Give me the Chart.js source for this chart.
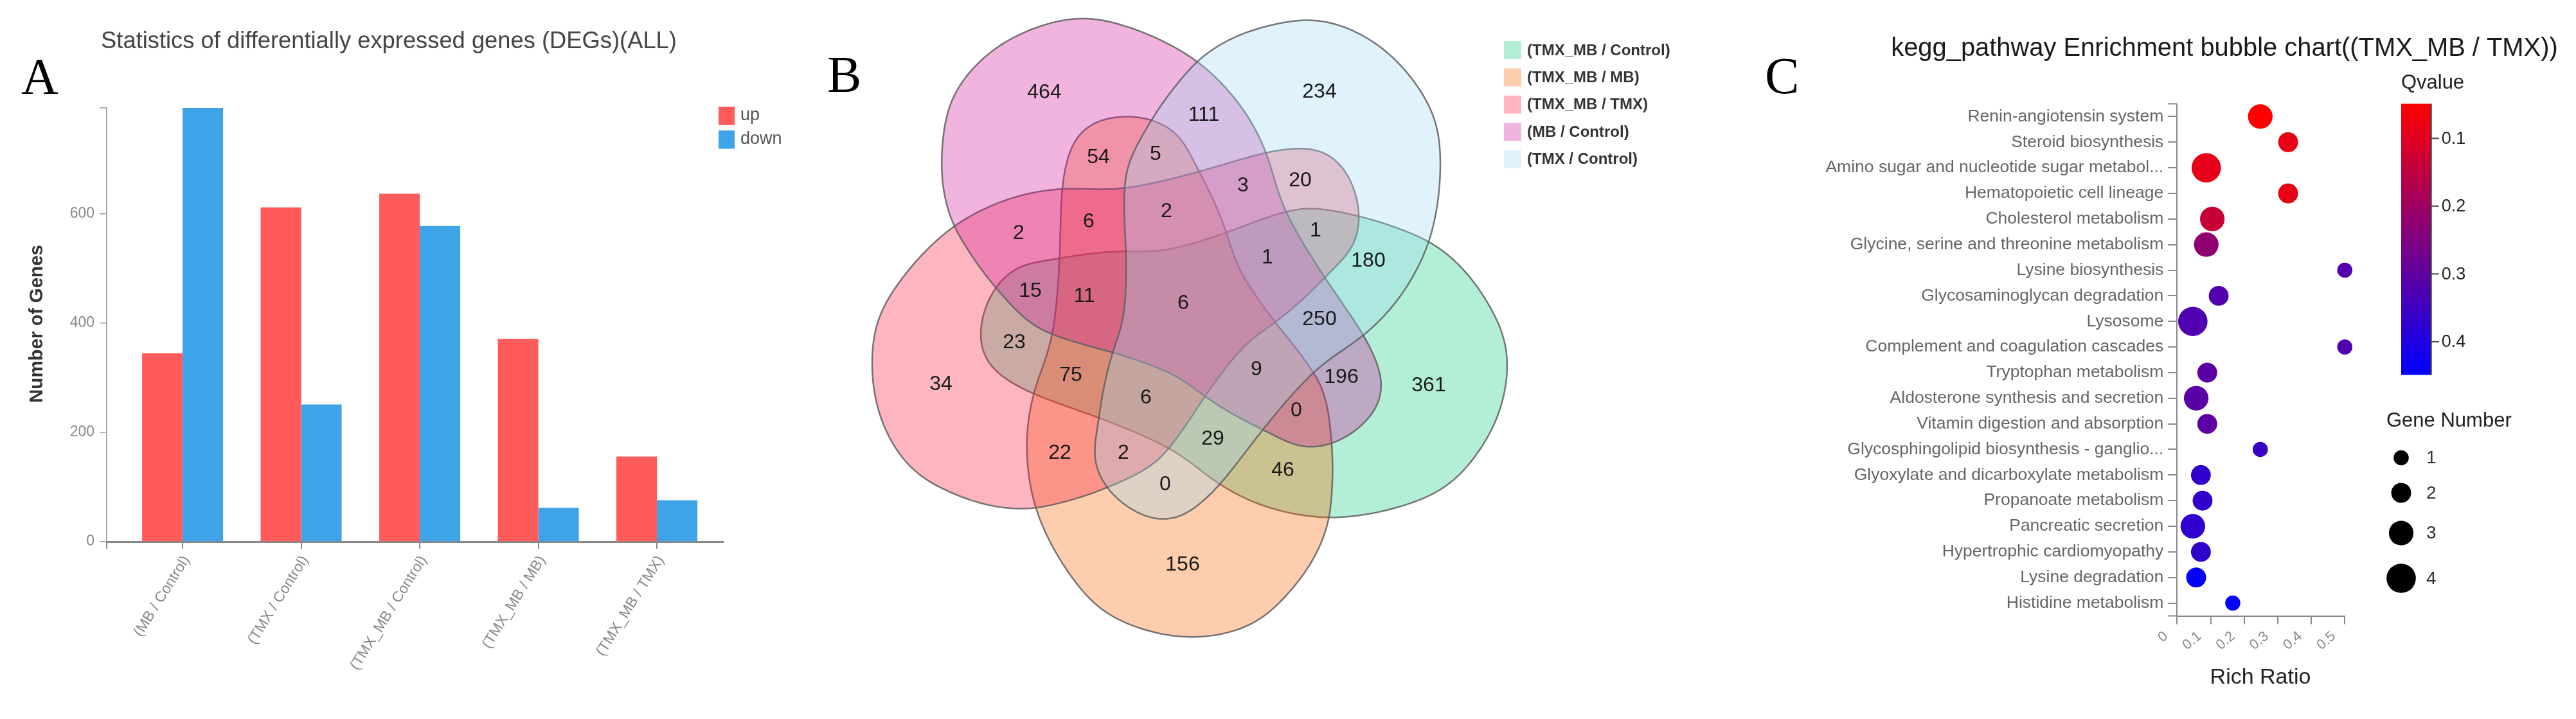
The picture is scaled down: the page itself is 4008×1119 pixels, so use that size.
<!DOCTYPE html>
<html><head><meta charset="utf-8">
<script src="https://cdn.jsdelivr.net/npm/chart.js@4/dist/chart.umd.min.js"></script>
<style>
html,body{margin:0;padding:0;background:#fff;}
body{width:4008px;height:1119px;position:relative;overflow:hidden;}
canvas{position:absolute;top:0;}
</style></head><body>
<canvas id="cA" width="1300" height="1119" style="left:0px"></canvas>
<canvas id="cB" width="1380" height="1119" style="left:1270px"></canvas>
<canvas id="cC" width="1358" height="1119" style="left:2650px"></canvas>
<script>
// ================= DATA =================
// Panel A
const degCategories = ['(MB / Control)', '(TMX / Control)', '(TMX_MB / Control)', '(TMX_MB / MB)', '(TMX_MB / TMX)'];
const degUp   = [345, 612, 637, 371, 156];
const degDown = [794, 251, 578, 62, 76];
const degTicks = [0, 200, 400, 600];

// Panel B
const vennSets = ['(TMX_MB / Control)', '(TMX_MB / MB)', '(TMX_MB / TMX)', '(MB / Control)', '(TMX / Control)'];
const vennCounts = [464, 234, 111, 54, 5, 3, 20, 2, 6, 2, 1, 1, 180, 15, 11, 6, 250, 23, 75, 9, 196, 361, 34, 6, 0, 22, 2, 29, 46, 0, 156];

// Panel C
const keggPathways = [
  'Renin-angiotensin system', 'Steroid biosynthesis', 'Amino sugar and nucleotide sugar metabol...',
  'Hematopoietic cell lineage', 'Cholesterol metabolism', 'Glycine, serine and threonine metabolism',
  'Lysine biosynthesis', 'Glycosaminoglycan degradation', 'Lysosome', 'Complement and coagulation cascades',
  'Tryptophan metabolism', 'Aldosterone synthesis and secretion', 'Vitamin digestion and absorption',
  'Glycosphingolipid biosynthesis - ganglio...', 'Glyoxylate and dicarboxylate metabolism',
  'Propanoate metabolism', 'Pancreatic secretion', 'Hypertrophic cardiomyopathy', 'Lysine degradation',
  'Histidine metabolism'];
const keggRichRatio = [0.248, 0.331, 0.087, 0.331, 0.105, 0.087, 0.5, 0.124, 0.047, 0.5,
                       0.090, 0.057, 0.090, 0.248, 0.071, 0.076, 0.047, 0.071, 0.057, 0.166];
const keggQvalue = [0.049, 0.085, 0.088, 0.085, 0.135, 0.225, 0.32, 0.32, 0.325, 0.32,
                    0.305, 0.31, 0.305, 0.36, 0.37, 0.37, 0.375, 0.37, 0.445, 0.449];
const keggGeneNumber = [3, 2, 4, 2, 3, 3, 1, 2, 4, 1, 2, 3, 2, 1, 2, 2, 3, 2, 2, 1];
const richTicks = [0, 0.1, 0.2, 0.3, 0.4, 0.5];
const qTicks = [0.1, 0.2, 0.3, 0.4];
const geneLegend = [1, 2, 3, 4];

// ================= LAYOUT / STYLE =================
const FONT = "'Liberation Sans', Arial, sans-serif";
const SERIF = "'Liberation Serif', 'Times New Roman', serif";
Chart.defaults.font.family = FONT;
Chart.defaults.animation = false;

function fitSize(ctx, text, width, weight, family) {
  ctx.font = weight + ' 100px ' + family;
  return 100 * width / ctx.measureText(text).width;
}
function drawFitText(ctx, text, cx, baseline, width, weight, family, color, base) {
  const s = fitSize(ctx, text, width, weight, family);
  ctx.font = weight + ' ' + s + 'px ' + family;
  ctx.fillStyle = color; ctx.textAlign = 'center'; ctx.textBaseline = base || 'alphabetic';
  ctx.fillText(text, cx, baseline);
}
function letter(ctx, ch, x, baseline) {
  ctx.font = '80px ' + SERIF; ctx.fillStyle = '#000';
  ctx.textAlign = 'left'; ctx.textBaseline = 'alphabetic';
  ctx.fillText(ch, x, baseline);
}

// ================= PANEL A =================
const degMax = Math.max(...degUp, ...degDown);
const panelAText = {
  id: 'panelAText',
  afterDraw(chart) {
    const ctx = chart.ctx, ca = chart.chartArea;
    ctx.save();
    drawFitText(ctx, 'Statistics of differentially expressed genes (DEGs)(ALL)', 605, 75, 896, 'normal', FONT, '#444');
    letter(ctx, 'A', 33, 146);
    const items = [['up', '#FF5B5B', 166], ['down', '#3FA3E7', 203]];
    items.forEach(([t, c, y]) => {
      ctx.fillStyle = c; ctx.fillRect(1118, y, 25, 28.5);
      ctx.fillStyle = '#555'; ctx.font = '27px ' + FONT; ctx.textAlign = 'left'; ctx.textBaseline = 'middle';
      ctx.fillText(t, 1152, y + 14);
    });
    ctx.translate(58, 504); ctx.rotate(-Math.PI / 2);
    drawFitText(ctx, 'Number of Genes', 0, 0, 246, 'bold', FONT, '#333', 'middle');
    ctx.restore();
    ctx.save(); ctx.strokeStyle = '#888'; ctx.lineWidth = 2;
    ctx.beginPath(); ctx.moveTo(ca.left, ca.bottom); ctx.lineTo(ca.left, ca.bottom + 11); ctx.stroke();
    ctx.restore();
  }
};
new Chart(document.getElementById('cA'), {
  type: 'bar',
  data: {
    datasets: [
      { label: 'up', data: degUp.map((v, i) => ({ x: i, y: v })), backgroundColor: '#FF5B5B', categoryPercentage: 0.683, barPercentage: 1 },
      { label: 'down', data: degDown.map((v, i) => ({ x: i, y: v })), backgroundColor: '#3FA3E7', categoryPercentage: 0.683, barPercentage: 1 }
    ]
  },
  options: {
    responsive: false, animation: false, devicePixelRatio: 1,
    layout: { padding: { left: 0, top: 168, right: 175, bottom: 0 }, autoPadding: false },
    plugins: { legend: { display: false }, tooltip: { enabled: false } },
    scales: {
      x: {
        type: 'linear', min: -0.64, max: 4.558, offset: false,
        afterBuildTicks: s => { s.ticks = degCategories.map((c, i) => ({ value: i })); },
        ticks: { callback: v => degCategories[v], minRotation: 58, maxRotation: 58, autoSkip: false, color: '#888', font: { size: 23 }, padding: 6, labelOffset: 6 },
        grid: { drawOnChartArea: false, drawTicks: true, tickLength: 11, color: '#888', lineWidth: 2, offset: false },
        border: { display: true, color: '#888', width: 3 },
        afterFit: s => { s.height = 276; }
      },
      y: {
        min: 0, max: degMax,
        afterBuildTicks: s => { s.ticks = degTicks.concat([degMax]).map(v => ({ value: v })); },
        ticks: { callback: v => (degTicks.includes(v) ? String(v) : ''), color: '#888', font: { size: 23 }, padding: 8 },
        grid: { drawOnChartArea: false, tickLength: 11, color: '#999', lineWidth: 1.5 },
        border: { color: '#999', width: 1.5 },
        afterFit: s => { s.width = 166; }
      }
    }
  },
  plugins: [panelAText]
});

// ================= PANEL B =================
// outline of one set (relative to diagram centre); rotated for each set
const vennTemplate = [[-177,-271],[-143,-297],[-93,-304],[-60,-299],[-17,-277],[8,-231],[33,-184],[57,-127],
  [73,-74],[97,-34],[130,13],[163,53],[187,86],[207,116],[217,156],[221,196],[224,236],[222,285],[215,338],
  [178,411],[100,487],[-8,508],[-120,476],[-186,410],[-237,313],[-253,216],[-243,131],[-215,49],[-203,-51],
  [-198,-187],[-190,-234]];
const vennRotation = [288, 0, 72, 144, 216];            // per set, same order as vennSets
const vennDrawOrder = [0, 1, 2, 3, 4];
const vennLegendColors = [[179,239,214],[254,205,174],[253,182,192],[240,180,223],[224,243,252]];
const vennAlpha = 0.32;
const vennLabelPos = [[-225,-341],[203,-342],[23,-306],[-141,-240],[-52,-245],[84,-196],[173,-204],
  [-265,-122],[-156,-140],[-35,-156],[197,-126],[122,-84],[279,-79],[-247,-32],[-163,-24],[-9,-13],
  [203,12],[-272,48],[-184,99],[105,90],[237,102],[373,115],[-386,113],[-67,134],[167,154],[-201,220],
  [-102,220],[37,198],[146,247],[-37,269],[-10,394]];

function fillColor(rgb, a) {
  const c = rgb.map(v => Math.max(0, Math.min(255, Math.round((v - 255 * (1 - a)) / a))));
  return `rgba(${c[0]},${c[1]},${c[2]},${a})`;
}
function crSample(pts, per) {
  const n = pts.length, out = [];
  for (let i = 0; i < n; i++) {
    const p0 = pts[(i - 1 + n) % n], p1 = pts[i], p2 = pts[(i + 1) % n], p3 = pts[(i + 2) % n];
    const c1 = [p1[0] + (p2[0] - p0[0]) / 6, p1[1] + (p2[1] - p0[1]) / 6];
    const c2 = [p2[0] - (p3[0] - p1[0]) / 6, p2[1] - (p3[1] - p1[1]) / 6];
    for (let k = 0; k < per; k++) {
      const t = k / per, m = 1 - t;
      const a = m * m * m, b = 3 * m * m * t, c = 3 * m * t * t, d = t * t * t;
      out.push([a * p1[0] + b * c1[0] + c * c2[0] + d * p2[0], a * p1[1] + b * c1[1] + c * c2[1] + d * p2[1]]);
    }
  }
  return out;
}
function resample(pts, N) {
  const n = pts.length, cum = [0];
  for (let i = 1; i <= n; i++) {
    const a = pts[i - 1], b = pts[i % n];
    cum.push(cum[i - 1] + Math.hypot(b[0] - a[0], b[1] - a[1]));
  }
  const L = cum[n], out = [];
  let j = 0;
  for (let k = 0; k < N; k++) {
    const s = k * L / N;
    while (cum[j + 1] < s) j++;
    const t = (s - cum[j]) / (cum[j + 1] - cum[j] || 1);
    const a = pts[j], b = pts[(j + 1) % n];
    out.push([a[0] + (b[0] - a[0]) * t, a[1] + (b[1] - a[1]) * t]);
  }
  return out;
}
function smoothRing(pts, w, passes) {
  let p = pts;
  const n = p.length;
  for (let q = 0; q < passes; q++) {
    const o = [];
    for (let i = 0; i < n; i++) {
      let sx = 0, sy = 0;
      for (let k = -w; k <= w; k++) { const r = p[(i + k + n) % n]; sx += r[0]; sy += r[1]; }
      o.push([sx / (2 * w + 1), sy / (2 * w + 1)]);
    }
    p = o;
  }
  return p;
}
const vennOutline = smoothRing(resample(crSample(vennTemplate, 24), 420), 5, 2);

const vennPlugin = {
  id: 'vennShapes',
  beforeDatasetsDraw(chart) {
    const ctx = chart.ctx, xs = chart.scales.x, ys = chart.scales.y;
    ctx.save();
    ctx.lineJoin = 'round';
    vennDrawOrder.forEach(k => {
      const a = vennRotation[k] * Math.PI / 180, cs = Math.cos(a), sn = Math.sin(a);
      ctx.beginPath();
      vennOutline.forEach(([u, v], i) => {
        const px = xs.getPixelForValue(u * cs - v * sn), py = ys.getPixelForValue(u * sn + v * cs);
        if (i === 0) ctx.moveTo(px, py); else ctx.lineTo(px, py);
      });
      ctx.closePath();
      ctx.fillStyle = fillColor(vennLegendColors[k], vennAlpha);
      ctx.fill();
      ctx.lineWidth = 2.5; ctx.strokeStyle = 'rgba(95,95,95,0.85)';
      ctx.stroke();
    });
    ctx.restore();
  },
  afterDatasetsDraw(chart) {
    const ctx = chart.ctx, meta = chart.getDatasetMeta(0);
    ctx.save();
    ctx.font = '32px ' + FONT; ctx.fillStyle = '#1a1a1a'; ctx.textAlign = 'center'; ctx.textBaseline = 'middle';
    meta.data.forEach((el, i) => ctx.fillText(String(vennCounts[i]), el.x, el.y + 1));
    vennSets.forEach((s, i) => {
      const cy = 78 + i * 42.4;
      const c = vennLegendColors[i];
      ctx.fillStyle = `rgb(${c[0]},${c[1]},${c[2]})`;
      ctx.fillRect(1070, cy - 14, 27, 28);
      ctx.fillStyle = '#333'; ctx.font = 'bold 24px ' + FONT; ctx.textAlign = 'left';
      ctx.fillText(s, 1106, cy + 1);
    });
    letter(ctx, 'B', 17, 143);
    ctx.restore();
  }
};
new Chart(document.getElementById('cB'), {
  type: 'scatter',
  data: { datasets: [{ data: vennLabelPos.map(p => ({ x: p[0], y: p[1] })), pointRadius: 0, pointHoverRadius: 0 }] },
  options: {
    responsive: false, animation: false, devicePixelRatio: 1,
    layout: { padding: 0, autoPadding: false },
    plugins: { legend: { display: false }, tooltip: { enabled: false } },
    scales: {
      x: { type: 'linear', display: false, min: -580, max: 800 },
      y: { type: 'linear', display: false, min: -484, max: 635, reverse: true }
    }
  },
  plugins: [vennPlugin]
});

// ================= PANEL C =================
const qMin = Math.min(...keggQvalue), qMax = Math.max(...keggQvalue);
function qColor(q) {
  const t = Math.min(1, Math.max(0, (q - qMin) / (qMax - qMin)));
  return `rgb(${Math.round(255 * (1 - t))},0,${Math.round(255 * t)})`;
}
function geneRadius(n) { return 8.1 + 3.68 * n; }
const panelCText = {
  id: 'panelCText',
  afterDraw(chart) {
    const ctx = chart.ctx, ca = chart.chartArea;
    ctx.save();
    drawFitText(ctx, 'kegg_pathway Enrichment bubble chart((TMX_MB / TMX))', 811, 87, 1038, 'normal', FONT, '#1a1a1a');
    letter(ctx, 'C', 96, 145);
    ctx.strokeStyle = '#888'; ctx.lineWidth = 2;
    ctx.beginPath(); ctx.moveTo(ca.left - 14, ca.bottom); ctx.lineTo(ca.left, ca.bottom); ctx.stroke();
    ctx.beginPath(); ctx.moveTo(ca.left - 14, ca.top); ctx.lineTo(ca.left, ca.top); ctx.stroke();
    ctx.font = '34px ' + FONT; ctx.fillStyle = '#222'; ctx.textAlign = 'center'; ctx.textBaseline = 'middle';
    ctx.fillText('Rich Ratio', 867, 1055);
    const bx = 1086, bw = 46.7, by = ca.top, bh = 422;
    const g = ctx.createLinearGradient(0, by, 0, by + bh);
    g.addColorStop(0, qColor(qMin)); g.addColorStop(1, qColor(qMax));
    ctx.fillStyle = g; ctx.fillRect(bx, by, bw, bh);
    ctx.strokeStyle = '#444'; ctx.lineWidth = 2;
    ctx.beginPath(); ctx.moveTo(bx + bw, by); ctx.lineTo(bx + bw, by + bh); ctx.stroke();
    ctx.font = '27px ' + FONT; ctx.fillStyle = '#222'; ctx.textAlign = 'left'; ctx.textBaseline = 'middle';
    qTicks.forEach(q => {
      const yy = by + (q - qMin) / (qMax - qMin) * bh;
      ctx.beginPath(); ctx.moveTo(bx + bw, yy); ctx.lineTo(bx + bw + 12, yy); ctx.stroke();
      ctx.fillText(q.toFixed(1), bx + bw + 16, yy + 1);
    });
    ctx.font = '31px ' + FONT; ctx.textAlign = 'center';
    ctx.fillText('Qvalue', 1135, 129);
    ctx.textAlign = 'left';
    ctx.fillText('Gene Number', 1063, 655);
    const ly = [712.5, 767, 829.6, 900];
    geneLegend.forEach((n, i) => {
      ctx.fillStyle = '#000';
      ctx.beginPath(); ctx.arc(1086, ly[i], geneRadius(n), 0, Math.PI * 2); ctx.fill();
      ctx.fillStyle = '#333'; ctx.font = '28px ' + FONT;
      ctx.fillText(String(n), 1125, ly[i] + 1);
    });
    ctx.restore();
  }
};
new Chart(document.getElementById('cC'), {
  type: 'bubble',
  data: {
    labels: keggPathways,
    datasets: [{
      data: keggPathways.map((p, i) => ({ x: keggRichRatio[i], y: p, r: geneRadius(keggGeneNumber[i]) })),
      backgroundColor: keggQvalue.map(qColor), borderWidth: 0, hoverRadius: 0, clip: false
    }]
  },
  options: {
    responsive: false, animation: false, devicePixelRatio: 1,
    layout: { padding: { left: 0, top: 161.5, right: 359.7, bottom: 0 }, autoPadding: false },
    plugins: { legend: { display: false }, tooltip: { enabled: false } },
    scales: {
      x: {
        type: 'linear', min: 0, max: 0.5,
        afterBuildTicks: s => { s.ticks = richTicks.map(v => ({ value: v })); },
        ticks: { callback: v => (v === 0 ? '0' : v.toFixed(1)), minRotation: 40, maxRotation: 40, autoSkip: false, color: '#888', font: { size: 22 }, padding: 6, labelOffset: -17 },
        grid: { drawOnChartArea: false, tickLength: 13, color: '#888', lineWidth: 2 },
        border: { color: '#888', width: 2 },
        afterFit: s => { s.height = 160.5; }
      },
      y: {
        type: 'category', labels: keggPathways, offset: true,
        ticks: { color: '#666', font: { size: 26.5 }, padding: 7, autoSkip: false },
        grid: { drawOnChartArea: false, offset: false, tickLength: 14, color: '#888', lineWidth: 2 },
        border: { color: '#888', width: 2 },
        afterFit: s => { s.height !== undefined; s.width = 737.3; }
      }
    }
  },
  plugins: [panelCText]
});
</script>
</body></html>
